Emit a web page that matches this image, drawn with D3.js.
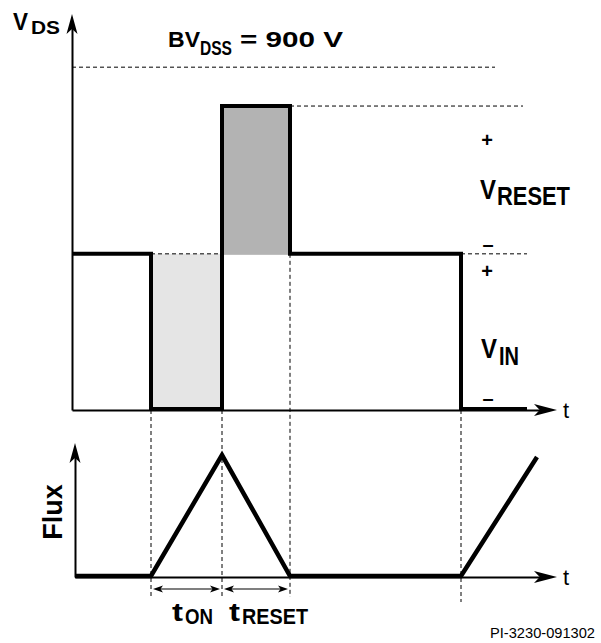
<!DOCTYPE html>
<html>
<head>
<meta charset="utf-8">
<script src="https://cdn.jsdelivr.net/npm/d3@7"></script>
<style>
  body { margin: 0; background: #fff; }
  svg { display: block; }
  text { font-family: "Liberation Sans", Arial, Helvetica, sans-serif; fill: #000; }
  .b { font-weight: bold; }
</style>
</head>
<body>
<svg id="chart" width="601" height="643"></svg>
<script>
// time breakpoints (arbitrary units)
const tOnStart = 79;
const tOnEnd = 150;
const tResetEnd = 218;
const tNext = 389;
const tMax = 480;

// voltages (V)
const vMax = 1037;
const vIn = 410;
const vPeak = 798;
const bvDss = 900;

// V_DS waveform: [time, volts]
const vdsPoints = [
  [0, vIn], [tOnStart, vIn], [tOnStart, 0], [tOnEnd, 0], [tOnEnd, vPeak],
  [tResetEnd, vPeak], [tResetEnd, vIn], [tNext, vIn], [tNext, 0], [455, 0]
];

// flux waveform: [time, relative flux]
const fluxPoints = [
  [3, 0], [tOnStart, 0], [tOnEnd, 0.91], [tResetEnd, 0], [tNext, 0], [465, 0.895]
];

const svg = d3.select("#chart");

const x = d3.scaleLinear().domain([0, tMax]).range([72, 552]);
const xf = d3.scaleLinear().domain([3, tMax]).range([75, 552]);
const y = d3.scaleLinear().domain([0, vMax]).range([410, 15]);
const yf = d3.scaleLinear().domain([0, 1]).range([577, 443]);

const line = d3.line();

// ---- fills
svg.append("rect")
  .attr("x", x(tOnStart)).attr("y", y(vIn))
  .attr("width", x(tOnEnd) - x(tOnStart)).attr("height", y(0) - y(vIn))
  .style("fill", "#e5e5e5");
svg.append("rect")
  .attr("x", x(tOnEnd)).attr("y", y(vPeak))
  .attr("width", x(tResetEnd) - x(tOnEnd)).attr("height", y(vIn) - y(vPeak) + 1)
  .style("fill", "#b3b3b3");

// ---- dashed guides
const dash = (x1, y1, x2, y2) => svg.append("line")
  .attr("x1", x1).attr("y1", y1).attr("x2", x2).attr("y2", y2)
  .style("stroke", "#000").style("stroke-width", 1)
  .style("stroke-dasharray", "4,3");

dash(x(0), y(bvDss), 495, y(bvDss));
dash(x(tResetEnd), y(vPeak), 523, y(vPeak));
dash(x(tOnStart), y(vIn), x(tOnEnd), y(vIn));
dash(x(tNext), y(vIn), 527, y(vIn));
dash(x(tOnStart), y(0), x(tOnStart), 597);
dash(x(tOnEnd), y(0), x(tOnEnd), 597);
dash(x(tResetEnd), y(vIn), x(tResetEnd), 597);
dash(x(tNext), y(0), x(tNext), 602);

// ---- axes
const noTicks = (a) => a.tickValues([]).tickSizeOuter(0);
function styleAxis(g) {
  g.select(".domain").style("stroke", "#000").style("stroke-width", 2);
}
svg.append("g").attr("transform", `translate(0,${y(0)})`)
  .call(noTicks(d3.axisBottom(d3.scaleLinear().range([x(0), 540])))).call(styleAxis);
svg.append("g").attr("transform", `translate(${x(0)},0)`)
  .call(noTicks(d3.axisLeft(d3.scaleLinear().range([y(0), 28])))).call(styleAxis);
svg.append("g").attr("transform", `translate(0,${yf(0)})`)
  .call(noTicks(d3.axisBottom(d3.scaleLinear().range([xf(3), 540])))).call(styleAxis);
svg.append("g").attr("transform", `translate(${xf(3)},0)`)
  .call(noTicks(d3.axisLeft(d3.scaleLinear().range([yf(0), 456])))).call(styleAxis);

// arrowheads
function arrowRight(tx, ty, len, half) {
  svg.append("path")
    .attr("d", `M${tx},${ty} L${tx - len},${ty - half} L${tx - len * 0.75},${ty} L${tx - len},${ty + half} Z`)
    .style("fill", "#000");
}
function arrowLeft(tx, ty, len, half) {
  svg.append("path")
    .attr("d", `M${tx},${ty} L${tx + len},${ty - half} L${tx + len * 0.75},${ty} L${tx + len},${ty + half} Z`)
    .style("fill", "#000");
}
function arrowUp(tx, ty, len, half) {
  svg.append("path")
    .attr("d", `M${tx},${ty} L${tx - half},${ty + len} L${tx},${ty + len * 0.75} L${tx + half},${ty + len} Z`)
    .style("fill", "#000");
}
arrowRight(557, y(0), 23, 6);
arrowRight(557, yf(0), 23, 6);
arrowUp(x(0), 14, 20, 5.5);
arrowUp(xf(3), 443, 20, 5.5);

// ---- waveforms
svg.append("path")
  .datum(vdsPoints.map(d => [x(d[0]), y(d[1]) - (d[1] === 0 ? 1 : 0)]))
  .attr("d", line)
  .style("fill", "none").style("stroke", "#000").style("stroke-width", 4)
  .style("stroke-linejoin", "miter");

svg.append("path")
  .datum(fluxPoints.map(d => [xf(d[0]), yf(d[1]) - (d[1] === 0 ? 1 : 0)]))
  .attr("d", line)
  .style("fill", "none").style("stroke", "#000").style("stroke-width", 4.5)
  .style("stroke-linejoin", "miter");

// ---- time span arrows
function span(t1, t2) {
  const a = x(t1) + 2, b = x(t2) - 2, yy = 589;
  svg.append("line").attr("x1", a + 4).attr("x2", b - 4).attr("y1", yy).attr("y2", yy)
    .style("stroke", "#000").style("stroke-width", 1.2);
  arrowLeft(a, yy, 10, 3.5);
  arrowRight(b, yy, 10, 3.5);
}
span(tOnStart, tOnEnd);
span(tOnEnd, tResetEnd);

// ---- labels (condensed bold lettering: widths fitted with textLength)
function word(xp, yp, str, size, width, bold = true) {
  return svg.append("text").attr("x", xp).attr("y", yp)
    .attr("class", bold ? "b" : null)
    .style("font-size", size + "px")
    .attr("textLength", width).attr("lengthAdjust", "spacingAndGlyphs")
    .text(str);
}

word(13, 30, "V", 24, 15);
word(31, 34, "DS", 18, 29);

word(168, 47, "BV", 22, 32);
word(200, 55, "DSS", 21, 32);
word(240, 47, "= 900 V", 22, 103);

word(480, 199, "V", 28, 16);
word(497, 205, "RESET", 25, 73);

word(481, 358, "V", 28, 16);
word(499, 365, "IN", 25, 20);

word(172, 621, "t", 26, 11);
word(185, 624, "ON", 22, 28);
word(229, 621, "t", 26, 11);
word(242, 624, "RESET", 22, 66);

const sign = (xp, yp, s) => svg.append("text").attr("x", xp).attr("y", yp)
  .attr("class", "b").attr("text-anchor", "middle").style("font-size", "20px").text(s);
sign(487, 147, "+");
sign(488, 251, "–");
sign(487, 278, "+");
sign(488, 405, "–");

svg.append("text").attr("x", 563).attr("y", 418).style("font-size", "22px").text("t");
svg.append("text").attr("x", 563).attr("y", 585).style("font-size", "22px").text("t");

svg.append("text").attr("class", "b")
  .attr("transform", "translate(62,512) rotate(-90)")
  .attr("text-anchor", "middle")
  .style("font-size", "27px").text("Flux");

svg.append("text").attr("x", 595).attr("y", 638).attr("text-anchor", "end")
  .style("font-size", "15px").attr("textLength", 105).attr("lengthAdjust", "spacingAndGlyphs")
  .text("PI-3230-091302");
</script>
</body>
</html>
